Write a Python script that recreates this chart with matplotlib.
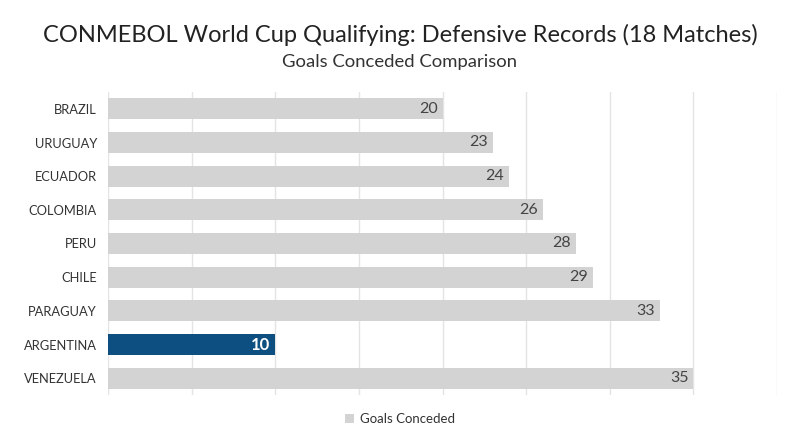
import matplotlib
matplotlib.use("Agg")
import matplotlib.pyplot as plt
from matplotlib.patches import Patch

teams = ["BRAZIL", "URUGUAY", "ECUADOR", "COLOMBIA", "PERU", "CHILE",
         "PARAGUAY", "ARGENTINA", "VENEZUELA"]
goals_conceded = [20, 23, 24, 26, 28, 29, 33, 10, 35]
highlight = "ARGENTINA"

title = "CONMEBOL World Cup Qualifying: Defensive Records (18 Matches)"
subtitle = "Goals Conceded Comparison"
series_name = "Goals Conceded"

GRAY = "#d3d3d3"
BLUE = "#0c4f80"
GRID = "#e4e4e4"

plt.rcParams["font.family"] = ["Lato", "DejaVu Sans"]

fig = plt.figure(figsize=(8, 4.47), dpi=100)
W, H = 800, 447
left, right = 108 / W, 777 / W
top, bottom = 1 - 92 / H, 1 - 395 / H
ax = fig.add_axes([left, bottom, right - left, top - bottom])

y = list(range(len(teams)))
colors = [BLUE if t == highlight else GRAY for t in teams]
bars = ax.barh(y, goals_conceded, height=0.62, color=colors, zorder=2)

for b, v, t in zip(bars, goals_conceded, teams):
    if t == highlight:
        ax.text(b.get_width() - 0.3, b.get_y() + b.get_height() / 2, str(v),
                ha="right", va="center", color="white", fontsize=12,
                fontweight="bold", zorder=3)
    else:
        ax.text(b.get_width() - 0.3, b.get_y() + b.get_height() / 2, str(v),
                ha="right", va="center", color="#444444", fontsize=11.5, zorder=3)

ax.set_ylim(len(teams) - 0.5, -0.5)
ax.set_xlim(0, 40)
ax.set_xticks(range(0, 41, 5))
ax.xaxis.grid(True, color=GRID, linewidth=1, zorder=0)
ax.tick_params(axis="x", length=0, labelbottom=False)
ax.set_yticks(y)
ax.set_yticklabels(teams, fontsize=9.3, color="#333333")
ax.tick_params(axis="y", length=0, pad=8)
for s in ax.spines.values():
    s.set_visible(False)

fig.text(0.5, 1 - 35 / H, title, ha="center", va="center", fontsize=17, color="#222222")
fig.text(0.5, 1 - 62 / H, subtitle, ha="center", va="center", fontsize=13.3, color="#333333")

handle = Patch(facecolor=GRAY, edgecolor="none")
fig.legend([handle], [series_name], loc="center", bbox_to_anchor=(0.5, 1 - 419 / H),
           frameon=False, fontsize=9.5, handlelength=0.7, handleheight=0.7,
           handletextpad=0.4, labelcolor="#333333")

fig.savefig("out.png", dpi=100, facecolor="white")
